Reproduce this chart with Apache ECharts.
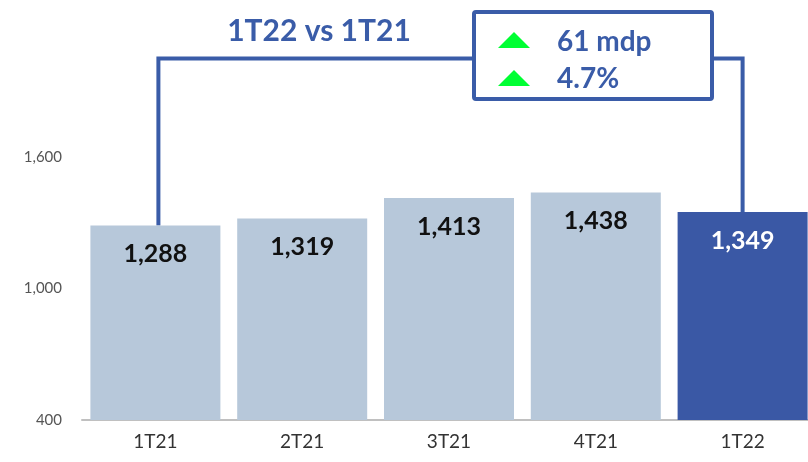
<!DOCTYPE html>
<html>
<head>
<meta charset="utf-8">
<script src="https://cdn.jsdelivr.net/npm/echarts@6/dist/echarts.min.js"></script>
<style>
  html, body { margin: 0; padding: 0; background: #fff; }
  #chart { width: 808px; height: 462px; }
</style>
</head>
<body>
<div id="chart"></div>
<script>
// data
const categories = ['1T21', '2T21', '3T21', '4T21', '1T22'];
const values = [1288, 1319, 1413, 1438, 1349];
const barColors = ['#b7c8da', '#b7c8da', '#b7c8da', '#b7c8da', '#3a58a5'];
const labelColors = ['#111', '#111', '#111', '#111', '#fff'];
const compareTitle = '1T22 vs 1T21';
const deltaLabels = ['61 mdp', '4.7%'];
const bracketLevel = 2050; // height of the bracket line, in axis units

const blue = '#3a5ca8';
const chart = echarts.init(document.getElementById('chart'));

const option = {
  animation: false,
  grid: { left: 82, width: 734, top: 25.5, bottom: 42, outerBoundsMode: 'none' },
  xAxis: {
    type: 'category',
    data: categories,
    axisTick: { show: false },
    axisLine: { lineStyle: { color: '#c0c0c0', width: 2 } },
    axisLabel: { color: '#333', fontSize: 19, fontFamily: 'Lato', margin: 12 }
  },
  yAxis: {
    type: 'value',
    min: 400,
    max: 2200,
    interval: 600,
    splitLine: { show: false },
    axisLine: { show: false },
    axisLabel: {
      color: '#555', fontSize: 15, fontFamily: 'Lato', margin: 20,
      formatter: function (v) { return v > 1600 ? '' : v.toLocaleString('en-US'); }
    }
  },
  series: [{
    type: 'bar',
    barWidth: 130,
    data: values.map(function (v, i) {
      return {
        value: v,
        itemStyle: { color: barColors[i] },
        label: { color: labelColors[i] }
      };
    }),
    label: {
      show: true,
      position: 'insideTop',
      distance: 16,
      fontSize: 25,
      fontWeight: 'bold',
      fontFamily: 'Lato',
      formatter: function (p) { return p.value.toLocaleString('en-US'); }
    }
  }]
};
chart.setOption(option);

// bracket between first and last bar, built from the axis scales
const a = chart.convertToPixel({ seriesIndex: 0 }, [0, values[0]]);
const b = chart.convertToPixel({ seriesIndex: 0 }, [4, values[4]]);
const topY = chart.convertToPixel({ yAxisIndex: 0 }, bracketLevel);
const boxL = 474, boxR = 712, boxT = 12, boxB = 99;

chart.setOption({
  graphic: [
    {
      type: 'polyline',
      shape: { points: [[a[0] + 3, a[1]], [a[0] + 3, topY], [boxL, topY]] },
      style: { stroke: blue, lineWidth: 4, fill: null }
    },
    {
      type: 'polyline',
      shape: { points: [[boxR, topY], [b[0], topY], [b[0], b[1]]] },
      style: { stroke: blue, lineWidth: 4, fill: null }
    },
    {
      type: 'rect',
      shape: { x: boxL, y: boxT, width: boxR - boxL, height: boxB - boxT, r: 2 },
      style: { stroke: blue, lineWidth: 4, fill: '#fff' }
    },
    {
      type: 'text',
      x: 319, y: 31,
      style: {
        text: compareTitle, fill: blue, fontSize: 30, fontWeight: 'bold',
        fontFamily: 'Lato', align: 'center', verticalAlign: 'middle'
      }
    },
    {
      type: 'polygon',
      shape: { points: [[498, 48], [514, 32], [530, 48]] },
      style: { fill: '#00ff33' }
    },
    {
      type: 'polygon',
      shape: { points: [[498, 86], [514, 70], [530, 86]] },
      style: { fill: '#00ff33' }
    },
    {
      type: 'text',
      x: 557, y: 42,
      style: {
        text: deltaLabels[0], fill: blue, fontSize: 28, fontWeight: 'bold',
        fontFamily: 'Lato', align: 'left', verticalAlign: 'middle'
      }
    },
    {
      type: 'text',
      x: 557, y: 79,
      style: {
        text: deltaLabels[1], fill: blue, fontSize: 28, fontWeight: 'bold',
        fontFamily: 'Lato', align: 'left', verticalAlign: 'middle'
      }
    }
  ]
});
</script>
</body>
</html>
